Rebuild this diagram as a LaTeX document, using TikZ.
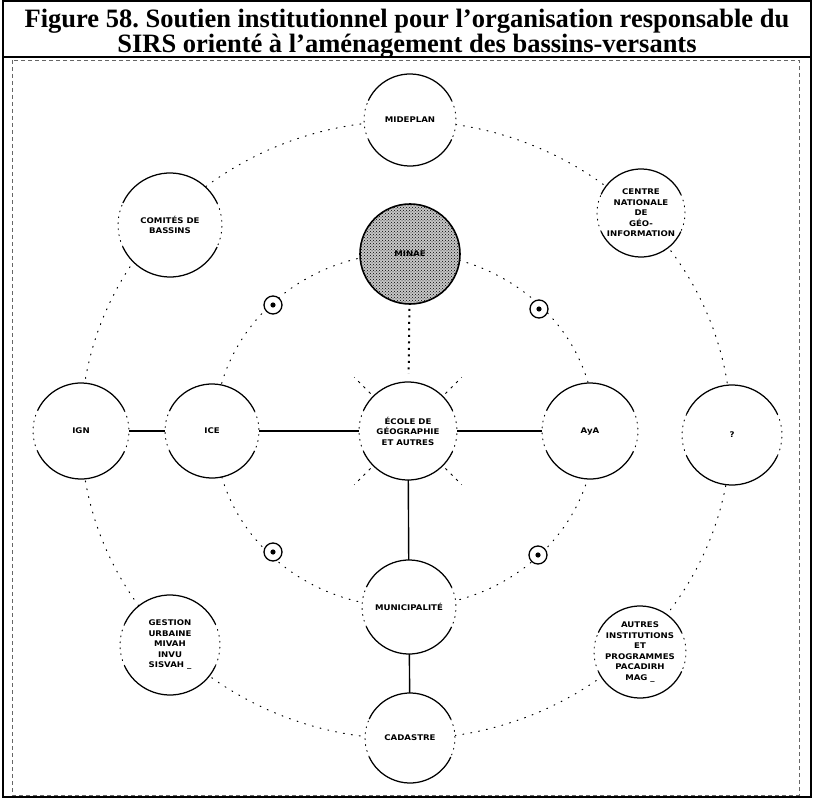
\documentclass[tikz,border=0pt]{standalone}
\usepackage{fontspec}
\setmainfont{Liberation Serif}
\newfontfamily\labfont{DejaVu Sans}[FakeStretch=1.1]
\usetikzlibrary{patterns}
\begin{document}
\begin{tikzpicture}[x=1pt,y=-1pt,
  title/.style={font=\bfseries\fontsize{26.5}{28}\selectfont, inner sep=0pt},
  org/.style={circle, fill=white, inner sep=0pt, minimum size=2*#1, align=center,
    font=\labfont\bfseries\fontsize{7.8}{10.5}\selectfont},
  rim/.style={line width=1.25pt},
  rimside/.style={line width=0.9pt, dash pattern=on 1pt off 5pt, line cap=round},
  ring/.style={line width=1pt, dash pattern=on 1pt off 7pt, line cap=round},
  link/.style={line width=1.4pt},
  support/.style={line width=2pt, dash pattern=on 2pt off 4.5pt},
  ray/.style={line width=1pt, dash pattern=on 2.5pt off 5pt},
  dotc/.style={circle, draw, fill=white, line width=1.3pt, minimum size=18, inner sep=0pt},
  frame/.style={line width=1.5pt},
  innerframe/.style={line width=0.6pt, dash pattern=on 4pt off 3pt, black!60}
]
\useasboundingbox (0,0) rectangle (815,800);

% outer frame and title
\draw[frame] (3,1) rectangle (811,797);
\draw[frame] (3,57) -- (811,57);
\draw[innerframe] (12,60) rectangle (799,795);
\node[title] (t1) at (407,21) {Figure 58.\ Soutien institutionnel pour l’organisation responsable du};
\node[title] (t2) at (407,46) {SIRS orienté à l’aménagement des bassins-versants};

% the two dotted rings
\draw[ring] (406,430) ellipse [x radius=325, y radius=309];
\draw[ring] (405,430) ellipse [x radius=190, y radius=177];

% organisations
\node[org=46] (mid) at (410,120) {MIDEPLAN};
\node[org=52] (com) at (170,225) {COMITÉS DE\\BASSINS};
\node[org=44] (cng) at (641,213) {CENTRE\\NATIONALE\\DE\\GÉO-\\INFORMATION};
\node[org=48] (ign) at (81,431) {IGN};
\node[org=47] (ice) at (212,431) {ICE};
\node[org=49] (eco) at (408,431) {ÉCOLE DE\\GÉOGRAPHIE\\ET AUTRES};
\node[org=48] (aya) at (590,431) {AyA};
\node[org=50] (unk) at (732,435) {?};
\node[org=47] (mun) at (409,607) {MUNICIPALITÉ};
\node[org=45] (cad) at (410,738) {CADASTRE};
\node[org=50] (ges) at (170,645) {GESTION\\URBAINE\\MIVAH\\INVU\\SISVAH \_};
\node[org=46] (aut) at (640,652) {AUTRES\\INSTITUTIONS\\ET\\PROGRAMMES\\PACADIRH\\MAG \_};
\node[org=50, preaction={fill=black!22}, pattern=crosshatch dots, draw, line width=1.6pt] (min) at (410,254) {MINAE};

% broken outlines of the organisation circles
\foreach \n/\r in {mid/46, com/52, cng/44, ign/48, ice/47, eco/49, aya/48, unk/50,
                   mun/47, cad/45, ges/50, aut/46} {
  \draw[rim] ([shift={(25:\r)}]\n.center) arc[start angle=25, end angle=155, radius=\r];
  \draw[rim] ([shift={(205:\r)}]\n.center) arc[start angle=205, end angle=335, radius=\r];
  \draw[rimside] ([shift={(155:\r)}]\n.center) arc[start angle=155, end angle=205, radius=\r];
  \draw[rimside] ([shift={(-25:\r)}]\n.center) arc[start angle=-25, end angle=25, radius=\r];
}

% rays around the school
\foreach \a in {45,135,225,315}
  \draw[ray] ([shift={(\a:53)}]eco.center) -- ([shift={(\a:76)}]eco.center);

% links
\draw[link] (ign) -- (ice);
\draw[link] (ice) -- (eco);
\draw[link] (eco) -- (aya);
\draw[link] (eco) -- (mun);
\draw[link] (mun) -- (cad);
\draw[support, shorten <=4pt, shorten >=8pt] (min) -- (eco);

% circled dots on the inner ring
\foreach \n/\p in {d1/{(273,305)}, d2/{(539,309)}, d3/{(273,552)}, d4/{(538,555)}} {
  \node[dotc] (\n) at \p {};
  \fill (\n.center) circle[radius=2.6];
}
\end{tikzpicture}
\end{document}
